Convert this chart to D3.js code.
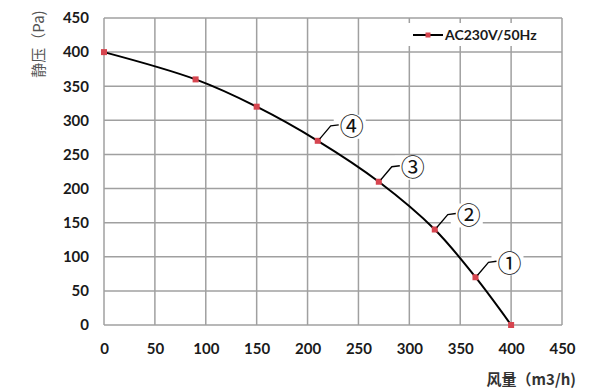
<!DOCTYPE html>
<html><head><meta charset="utf-8">
<script src="https://cdn.jsdelivr.net/npm/d3@7"></script>
<style>body{margin:0;background:#fff}svg{display:block}</style>
</head><body>
<svg id="c" width="600" height="392"></svg>
<script>
const flow = [0, 90, 150, 210, 270, 325, 365, 400];
const pressure = [400, 360, 320, 270, 210, 140, 70, 0];
const xTicks = [0, 50, 100, 150, 200, 250, 300, 350, 400, 450];
const yTicks = [0, 50, 100, 150, 200, 250, 300, 350, 400, 450];
const calloutIdx = [6, 5, 4, 3];
const calloutText = ["①", "②", "③", "④"];
const seriesName = "AC230V/50Hz";

const svg = d3.select("#c");
const m = {l:104, r:562, t:18, b:325};
const x = d3.scaleLinear().domain([0,450]).range([m.l, m.r]);
const y = d3.scaleLinear().domain([0,450]).range([m.b, m.t]);
const gridCol = "#a0a0a0";
const numFont = "Lato, 'Liberation Sans', sans-serif";

// grid
svg.append("g").selectAll("line").data(xTicks).join("line")
  .attr("x1", d=>x(d)).attr("x2", d=>x(d)).attr("y1", m.t).attr("y2", m.b)
  .attr("stroke", gridCol).attr("stroke-width", 1.5);
svg.append("g").selectAll("line").data(yTicks).join("line")
  .attr("x1", m.l).attr("x2", m.r).attr("y1", d=>y(d)).attr("y2", d=>y(d))
  .attr("stroke", gridCol).attr("stroke-width", 1.5);

// axes labels
const xa = svg.append("g").attr("transform", `translate(0,${m.b+24})`)
  .call(d3.axisBottom(x).tickValues(xTicks).tickSize(0).tickPadding(0));
xa.select(".domain").remove();
xa.selectAll("text").attr("font-family", numFont).attr("font-weight", "bold")
  .attr("font-size", 15).attr("fill", "#1a1a1a").attr("dy", "0.35em").attr("y", 0);
const ya = svg.append("g").attr("transform", `translate(${m.l-15},0)`)
  .call(d3.axisLeft(y).tickValues(yTicks).tickSize(0).tickPadding(0));
ya.select(".domain").remove();
ya.selectAll("text").attr("font-family", numFont).attr("font-weight", "bold")
  .attr("font-size", 15).attr("fill", "#1a1a1a");

// legend box
svg.append("rect").attr("x", 403).attr("y", 23).attr("width", 157).attr("height", 23).attr("fill", "#fff");
svg.append("line").attr("x1", 413).attr("x2", 443).attr("y1", 35).attr("y2", 35)
  .attr("stroke", "#000").attr("stroke-width", 2);
svg.append("rect").attr("x", 425.5).attr("y", 32.5).attr("width", 5).attr("height", 5).attr("fill", "#d6454f");
svg.append("text").attr("x", 445).attr("y", 40).text(seriesName)
  .attr("font-family", numFont).attr("font-weight", "bold").attr("font-size", 14).attr("fill", "#1a1a1a");

// curve
const pts = flow.map((f,i)=>[f, pressure[i]]);
svg.append("path").datum(pts)
  .attr("d", d3.line().x(d=>x(d[0])).y(d=>y(d[1])).curve(d3.curveCatmullRom.alpha(0.5)))
  .attr("fill", "none").attr("stroke", "#000").attr("stroke-width", 2);
svg.append("g").selectAll("rect").data(pts).join("rect")
  .attr("x", d=>x(d[0])-3).attr("y", d=>y(d[1])-3).attr("width", 6).attr("height", 6)
  .attr("fill", "#d6454f");

// callouts
const cg = svg.append("g");
calloutIdx.forEach((idx,k)=>{
  const px = x(flow[idx]), py = y(pressure[idx]);
  cg.append("rect").attr("x", px+16).attr("y", py-26).attr("width", 32).attr("height", 24).attr("fill","#fff");
  cg.append("path").attr("d", `M${px+2},${py-2} L${px+13},${py-15} L${px+21},${py-16}`)
    .attr("fill","none").attr("stroke","#000").attr("stroke-width",1.3);
  cg.append("text").attr("x", px+34).attr("y", py-14).attr("dy", "0.36em").attr("text-anchor","middle")
    .attr("font-family","'Noto Sans CJK SC', sans-serif").attr("font-size", 24).attr("fill","#111")
    .text(calloutText[k]);
});

// axis titles
svg.append("text").attr("transform", "translate(44,44) rotate(-90)").attr("text-anchor","middle")
  .attr("font-family","'Noto Sans CJK SC', sans-serif").attr("font-size", 15).attr("fill","#555")
  .text("静压（Pa)");
svg.append("text").attr("x", 576).attr("y", 385).attr("text-anchor","end")
  .attr("font-family","'Noto Sans CJK SC', sans-serif").attr("font-size", 15).attr("fill","#333")
  .attr("font-weight","bold").text("风量（m3/h)");
</script>
</body></html>
